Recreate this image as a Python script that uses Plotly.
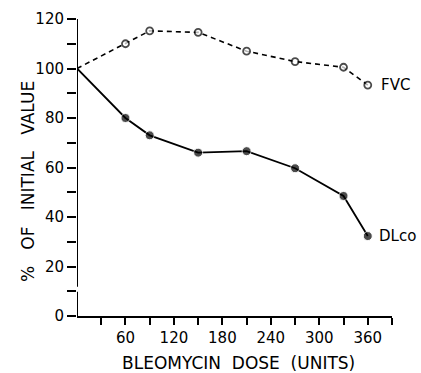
import plotly.graph_objects as go

dose = [0, 60, 90, 150, 210, 270, 330, 360]
fvc = [100, 110, 115.2, 114.6, 107, 102.8, 100.5, 93.3]
dlco = [100, 80, 73, 66, 66.6, 59.7, 48.5, 32.3]
x_ticks = [30, 60, 90, 120, 150, 180, 210, 240, 270, 300, 330, 360, 390]
y_ticks = [0, 10, 20, 30, 40, 50, 60, 70, 80, 90, 100, 110, 120]
y_labels = ["0", "", "20", "", "40", "", "60", "", "80", "", "100", "", "120"]

FONT = "DejaVu Sans, sans-serif"
marker_sizes = [0] + [9] * (len(dose) - 1)
open_sizes = [0] + [7] * (len(dose) - 1)

fig = go.Figure()
fig.add_trace(go.Scatter(
    x=dose, y=fvc, mode="lines+markers", cliponaxis=False,
    line=dict(color="black", width=1.6, dash="5px,4px"),
    marker=dict(size=open_sizes, color="white", line=dict(color="black", width=1.8)),
))
fig.add_trace(go.Scatter(
    x=dose, y=dlco, mode="lines+markers", cliponaxis=False,
    line=dict(color="black", width=1.8),
    marker=dict(size=marker_sizes, color="black"),
))

xt_text = [str(v) if v % 60 == 0 else "" for v in x_ticks]

fig.update_layout(
    width=421, height=373,
    margin=dict(l=77, r=29, t=19, b=57),
    paper_bgcolor="white", plot_bgcolor="white",
    showlegend=False,
    font=dict(family=FONT, size=15, color="black"),
    xaxis=dict(
        range=[0, 390], showgrid=False, zeroline=False, automargin=False,
        showline=True, linecolor="black", linewidth=2,
        ticks="outside", ticklen=7, tickwidth=1.6, tickcolor="black",
        tickvals=x_ticks, ticktext=xt_text,
        tickfont=dict(size=15),
    ),
    yaxis=dict(
        range=[0, 120], showgrid=False, zeroline=False, automargin=False,
        showline=False,
        ticks="outside", ticklen=9, tickwidth=1.6, tickcolor="black",
        tickvals=y_ticks, ticktext=y_labels,
        tickfont=dict(size=15),
    ),
)

# broken y-axis line
fig.add_shape(type="line", xref="x", yref="y", x0=0, x1=0, y0=11.8, y1=120,
              line=dict(color="black", width=2))
fig.add_shape(type="line", xref="x", yref="y", x0=0, x1=0, y0=0, y1=9.8,
              line=dict(color="black", width=2))
fig.add_shape(type="line", xref="x", yref="y", x0=-5, x1=0, y0=9.8, y1=9.8,
              line=dict(color="black", width=2))

fig.add_annotation(text="BLEOMYCIN&nbsp;&nbsp;DOSE&nbsp;&nbsp;(UNITS)", xref="paper", yref="paper",
                   x=0.514, y=-0.158, yanchor="middle", xanchor="center", showarrow=False,
                   font=dict(size=17))
fig.add_annotation(text="%&nbsp;&nbsp;&nbsp;OF&nbsp;&nbsp;&nbsp;INITIAL&nbsp;&nbsp;&nbsp;VALUE", xref="paper", yref="paper",
                   x=-0.1556, y=0.4545, xanchor="center", yanchor="middle", textangle=-90,
                   showarrow=False, font=dict(size=17))
fig.add_annotation(text="FVC", x=dose[-1], y=fvc[-1], xanchor="left", yanchor="middle",
                   xshift=11, showarrow=False, font=dict(size=15))
fig.add_annotation(text="DLco", x=dose[-1], y=dlco[-1], xanchor="left", yanchor="middle",
                   xshift=9, showarrow=False, font=dict(size=15))

fig.write_html(
    "out.html",
    config={"displayModeBar": False},
    post_script="document.body.style.margin='0';document.documentElement.style.overflow='hidden';",
)
